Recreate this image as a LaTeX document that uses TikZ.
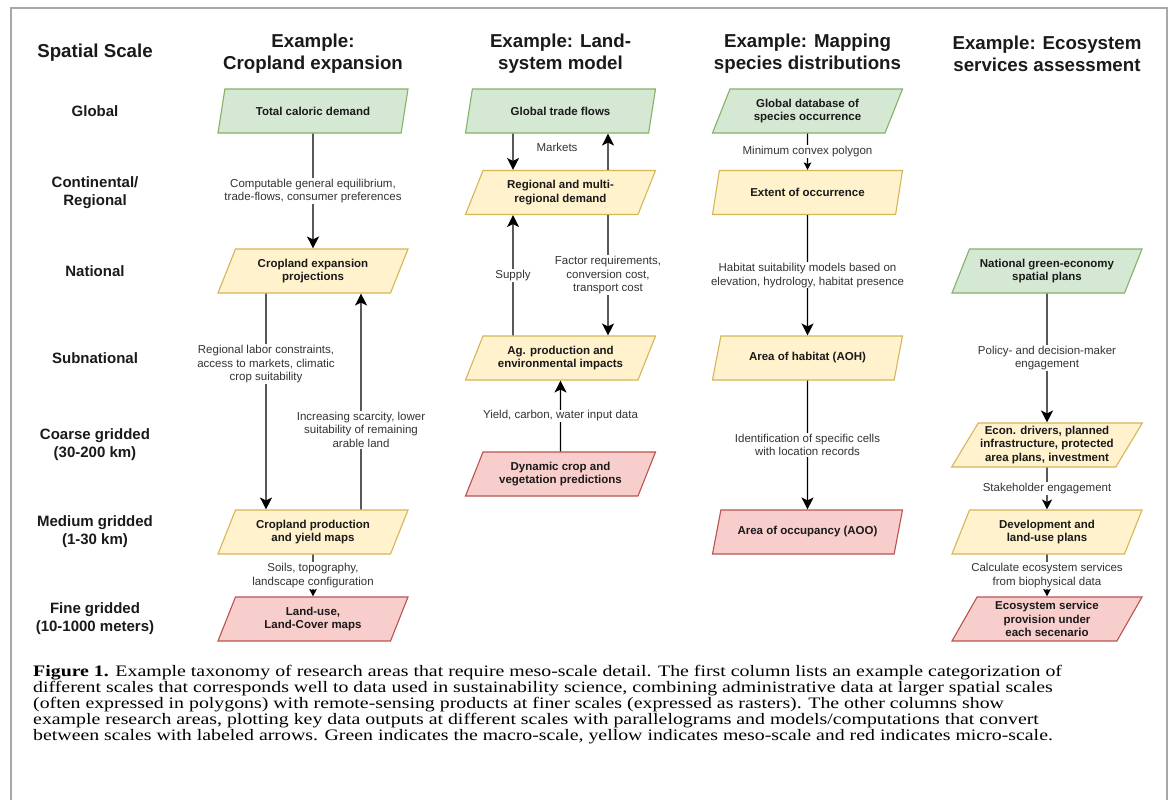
\documentclass[tikz,border=0pt]{standalone}
\usepackage{fontspec}
\newfontfamily\arialf{Liberation Sans}
\newfontfamily\capf{Liberation Serif}[FakeStretch=1.24]
\usetikzlibrary{shapes.geometric,arrows.meta}
\definecolor{gfill}{HTML}{D5E8D4}\definecolor{gdraw}{HTML}{82B366}
\definecolor{yfill}{HTML}{FFF2CC}\definecolor{ydraw}{HTML}{D6B656}
\definecolor{rfill}{HTML}{F8CECC}\definecolor{rdraw}{HTML}{B85450}
\definecolor{lblc}{HTML}{333333}
\definecolor{boxtxt}{HTML}{1A1A1A}
\definecolor{framec}{HTML}{A8A8A8}
\begin{document}
\begin{tikzpicture}[x=1pt,y=-1pt,
  para/.style={shape=trapezium, trapezium left angle=56.6, trapezium right angle=123.4,
    trapezium stretches body, minimum width=190, minimum height=44, inner xsep=2, inner ysep=1,
    line width=1.1, align=center, text=boxtxt, font=\arialf\bfseries\fontsize{11.5}{13.8}\selectfont},
  gbox/.style={para, fill=gfill, draw=gdraw},
  ybox/.style={para, fill=yfill, draw=ydraw},
  rbox/.style={para, fill=rfill, draw=rdraw},
  arr/.style={line width=1.4, -{Stealth[length=12,width=12,inset=3]}},
  marr/.style={line width=1.4, -{Stealth[length=10,width=10,inset=2.5]}},
  sarr/.style={line width=1.4, -{Stealth[length=7.5,width=7.5,inset=1.5]}},
  lbl/.style={fill=white, inner sep=1, align=center, text=lblc, font=\arialf\fontsize{11.5}{13.6}\selectfont},
  scalelbl/.style={align=center, text=boxtxt, font=\arialf\bfseries\fontsize{15}{18}\selectfont},
  head/.style={align=center, text=boxtxt, font=\arialf\bfseries\fontsize{18.7}{22}\selectfont},
  captxt/.style={anchor=base west, inner sep=0, text=black, font=\capf\fontsize{16}{16}\selectfont}
]
\useasboundingbox (0,0) rectangle (1170,800);
\fill[white] (0,0) rectangle (1170,800);
\draw[framec, line width=1.5] (11,800) -- (11,8) -- (1167,8) -- (1167,800);

% headings
\node[head] (hs) at (95,53) {Spatial Scale};
\node[head] (h1) at (313,54) {Example:\\Cropland expansion};
\node[head] (h2) at (560.5,54) {Example: Land-\\system model};
\node[head] (h3) at (807.5,54) {Example: Mapping\\species distributions};
\node[head] (h4) at (1047,54) {Example: Ecosystem\\services assessment};

% scale labels
\node[scalelbl] (sg) at (95,111) {Global};
\node[scalelbl] (sc) at (95,193) {Continental/\\Regional};
\node[scalelbl] (sn) at (95,271) {National};
\node[scalelbl] (ss) at (95,358) {Subnational};
\node[scalelbl] (scg) at (95,445) {Coarse gridded\\(30-200 km)};
\node[scalelbl] (sm) at (95,532) {Medium gridded\\(1-30 km)};
\node[scalelbl] (sf) at (95,619) {Fine gridded\\(10-1000 meters)};

% column 1
\node[gbox] (c1a) at (313,111) {Total caloric demand};
\node[ybox] (c1b) at (313,271) {Cropland expansion\\projections};
\node[ybox] (c1c) at (313,532) {Cropland production\\and yield maps};
\node[rbox] (c1d) at (313,619) {Land-use,\\Land-Cover maps};

% column 2
\node[gbox] (c2a) at (560.5,111) {Global trade flows};
\node[ybox] (c2b) at (560.5,192.5) {Regional and multi-\\regional demand};
\node[ybox] (c2c) at (560.5,358) {Ag. production and\\environmental impacts};
\node[rbox] (c2d) at (560.5,474) {Dynamic crop and\\vegetation predictions};

% column 3
\node[gbox] (c3a) at (807.5,111) {Global database of\\species occurrence};
\node[ybox] (c3b) at (807.5,192.5) {Extent of occurrence};
\node[ybox] (c3c) at (807.5,358) {Area of habitat (AOH)};
\node[rbox] (c3d) at (807.5,532) {Area of occupancy (AOO)};

% column 4
\node[gbox] (c4a) at (1047,271) {National green-economy\\spatial plans};
\node[ybox] (c4b) at (1047,445) {Econ. drivers, planned\\infrastructure, protected\\area plans, investment};
\node[ybox] (c4c) at (1047,532) {Development and\\land-use plans};
\node[rbox] (c4d) at (1047,619) {Ecosystem service\\provision under\\each secenario};

% arrows column 1
\draw[arr] (c1a) -- node[lbl] {Computable general equilibrium,\\trade-flows, consumer preferences} (c1b);
\draw[arr] ([xshift=-47]c1b.south) -- node[lbl, pos=0.327] {Regional labor constraints,\\access to markets, climatic\\crop suitability} ([xshift=-47]c1c.north);
\draw[arr] ([xshift=48]c1c.north) -- node[lbl, pos=0.369] {Increasing scarcity, lower\\suitability of remaining\\arable land} ([xshift=48]c1b.south);
\draw[sarr] (c1c) -- node[lbl] {Soils, topography,\\landscape configuration} (c1d);

% arrows column 2
\draw[arr] ([xshift=-47.5]c2a.south) -- ([xshift=-47.5]c2b.north);
\draw[arr] ([xshift=47.5]c2b.north) -- ([xshift=47.5]c2a.south);
\node[lbl] (mk) at (557,147) {Markets};
\draw[arr] ([xshift=-47.5]c2c.north) -- node[lbl] {Supply} ([xshift=-47.5]c2b.south);
\draw[arr] ([xshift=47.5]c2b.south) -- node[lbl] {Factor requirements,\\conversion cost,\\transport cost} ([xshift=47.5]c2c.north);
\draw[arr] (c2d) -- node[lbl] {Yield, carbon, water input data} (c2c);

% arrows column 3
\draw[sarr] (c3a) -- node[lbl] {Minimum convex polygon} (c3b);
\draw[arr] (c3b) -- node[lbl] {Habitat suitability models based on\\elevation, hydrology, habitat presence} (c3c);
\draw[arr] (c3c) -- node[lbl] {Identification of specific cells\\with location records} (c3d);

% arrows column 4
\draw[arr] (c4a) -- node[lbl] {Policy- and decision-maker\\engagement} (c4b);
\draw[marr] (c4b) -- node[lbl] {Stakeholder engagement} (c4c);
\draw[sarr] (c4c) -- node[lbl] {Calculate ecosystem services\\from biophysical data} (c4d);

% caption
\node[captxt] (cap1) at (33,676) {\textbf{Figure 1.} Example taxonomy of research areas that require meso-scale detail. The first column lists an example categorization of};
\node[captxt] (cap2) at (33,692) {different scales that corresponds well to data used in sustainability science, combining administrative data at larger spatial scales};
\node[captxt] (cap3) at (33,708) {(often expressed in polygons) with remote-sensing products at finer scales (expressed as rasters). The other columns show};
\node[captxt] (cap4) at (33,724) {example research areas, plotting key data outputs at different scales with parallelograms and models/computations that convert};
\node[captxt] (cap5) at (33,740) {between scales with labeled arrows. Green indicates the macro-scale, yellow indicates meso-scale and red indicates micro-scale.};
\end{tikzpicture}
\end{document}
